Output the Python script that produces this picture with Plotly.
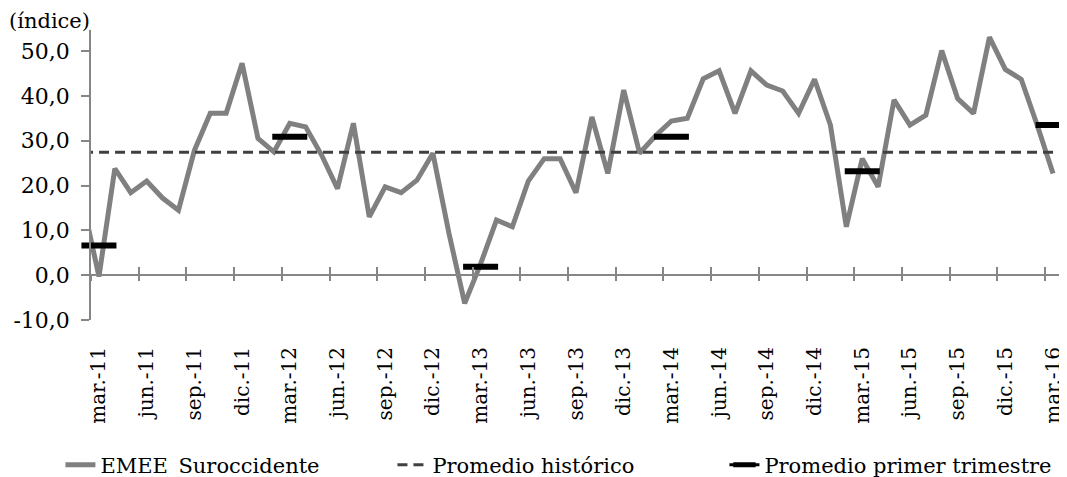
import plotly.graph_objects as go

# Months: index -1 = feb-11 (clipped by axis range), 0 = mar-11 ... 60 = mar-16
month_index = list(range(-1, 61))
emee_suroccidente = [
    16.0, -0.3, 23.8, 18.4, 21.0, 17.2, 14.5, 27.8, 36.1, 36.1, 47.3, 30.5, 27.5,   # feb-11..feb-12
    33.9, 33.1, 26.8, 19.3, 33.9, 13.0, 19.7, 18.4, 21.2, 27.2, 9.5, -6.3,          # mar-12..feb-13
    2.5, 12.3, 10.8, 21.0, 26.0, 26.0, 18.4, 35.3, 22.7, 41.3, 27.2, 31.1,          # mar-13..feb-14
    34.4, 35.0, 43.8, 45.6, 36.1, 45.6, 42.4, 41.1, 36.1, 43.7, 33.5, 10.8,         # mar-14..feb-15
    26.0, 19.7, 39.1, 33.5, 35.7, 50.1, 39.4, 36.1, 53.1, 45.9, 43.7, 33.5,         # mar-15..feb-16
    22.7,                                                                          # mar-16
]
promedio_historico = [27.4] * len(month_index)

q1_index = [0, 12, 24, 36, 48, 60]
promedio_primer_trimestre = [6.6, 30.9, 1.9, 30.9, 23.2, 33.5]

tick_label_index = list(range(0, 61, 3))
tick_labels = [
    "mar.-11", "jun.-11", "sep.-11", "dic.-11",
    "mar.-12", "jun.-12", "sep.-12", "dic.-12",
    "mar.-13", "jun.-13", "sep.-13", "dic.-13",
    "mar.-14", "jun.-14", "sep.-14", "dic.-14",
    "mar.-15", "jun.-15", "sep.-15", "dic.-15",
    "mar.-16",
]
boundary_ticks = [i - 0.5 for i in range(0, 61, 3)]
y_tick_values = [-10, 0, 10, 20, 30, 40, 50]
y_tick_labels = ["-10,0", "0,0", "10,0", "20,0", "30,0", "40,0", "50,0"]

q1_full_y = [None] * len(month_index)
for i, v in zip(q1_index, promedio_primer_trimestre):
    q1_full_y[month_index.index(i)] = v

FONT = "DejaVu Serif"
AX = "#868686"
x_range = [-0.5, 60.5]
y_range = [-10, 54.7]
zero_pos = (0 - y_range[0]) / (y_range[1] - y_range[0])

fig = go.Figure()
fig.add_trace(go.Scatter(
    x=month_index, y=emee_suroccidente, mode="lines", name="EMEE_Suroccidente",
    line=dict(color="#808080", width=5), xaxis="x", yaxis="y",
))
fig.add_trace(go.Scatter(
    x=month_index, y=promedio_historico, mode="lines", name="Promedio histórico",
    line=dict(color="#404040", width=3, dash="10px,6px"), xaxis="x2", yaxis="y",
))
fig.add_trace(go.Scatter(
    x=month_index, y=q1_full_y, mode="lines+markers", name="Promedio primer trimestre",
    connectgaps=False,
    line=dict(color="#000000", width=3),
    marker=dict(symbol="line-ew", size=25, color="#000000", line=dict(color="#000000", width=6)),
    xaxis="x3", yaxis="y", cliponaxis=False,
))

# The page body has an 8px margin, so the figure is sized/offset to compensate.
fig.update_layout(
    width=1059, height=469,
    margin=dict(l=83, r=6, t=22, b=157, autoexpand=False),
    paper_bgcolor="white", plot_bgcolor="white",
    font=dict(family=FONT, size=21, color="black"),
    showlegend=True,
    legend=dict(
        orientation="h", x=-0.0315, xanchor="left", y=-0.5, yanchor="middle",
        font=dict(family=FONT, size=21, color="black"),
        bgcolor="rgba(0,0,0,0)", entrywidth=287, entrywidthmode="pixels",
    ),
    xaxis=dict(
        range=x_range, domain=[0, 1], anchor="free", position=zero_pos,
        showline=True, linecolor=AX, linewidth=1.5,
        tickmode="array", tickvals=boundary_ticks, ticks="outside", ticklen=5,
        tickcolor=AX, tickwidth=1.5, showticklabels=False,
        showgrid=False, zeroline=False,
    ),
    xaxis3=dict(
        range=x_range, overlaying="x", anchor="free", position=zero_pos,
        showline=False, tickmode="array", tickvals=boundary_ticks, ticks="inside",
        ticklen=8, tickcolor=AX, tickwidth=1.5, showticklabels=False,
        showgrid=False, zeroline=False,
    ),
    xaxis2=dict(
        range=x_range, overlaying="x", anchor="y", side="bottom",
        showline=False, tickmode="array", tickvals=tick_label_index, ticktext=tick_labels,
        tickangle=-90, ticks="outside", ticklen=18, tickcolor="rgba(0,0,0,0)",
        ticklabeloverflow="allow",
        tickfont=dict(family=FONT, size=20, color="black"),
        showgrid=False, zeroline=False,
    ),
    yaxis=dict(
        range=y_range, domain=[0, 1],
        showline=True, linecolor=AX, linewidth=1.5,
        tickmode="array", tickvals=y_tick_values, ticktext=y_tick_labels,
        ticks="outside", ticklen=8, tickcolor=AX, tickwidth=1.5,
        ticklabelstandoff=7,
        tickfont=dict(family=FONT, size=22, color="black"),
        showgrid=False, zeroline=False,
    ),
    annotations=[dict(
        text="(índice)", xref="paper", yref="paper", x=-0.0866, y=1.03,
        xanchor="left", yanchor="middle", showarrow=False,
        font=dict(family=FONT, size=21, color="black"),
    )],
)

fig.write_html("out.html")
